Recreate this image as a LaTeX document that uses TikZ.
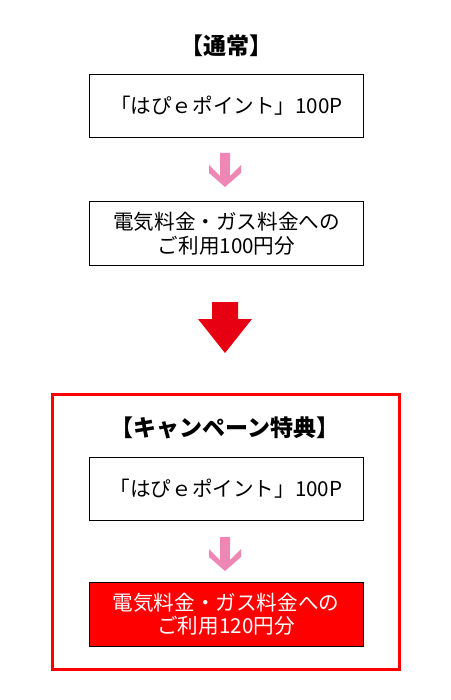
\documentclass[tikz,border=0pt]{standalone}
\usepackage{fontspec}
\newfontfamily\jp{Noto Sans CJK JP}
\definecolor{pinkarr}{HTML}{EE87B6}
\definecolor{redarr}{HTML}{E60012}
\definecolor{framered}{HTML}{FF0000}
\tikzset{
  plainbox/.style={draw=black, line width=1pt, fill=white, minimum width=274pt, minimum height=63pt, inner sep=0pt, align=center, font=\jp\fontsize{20.6pt}{23.5pt}\selectfont, text=black},
  redbox/.style={plainbox, fill=framered, text=white},
  titletext/.style={font=\jp\bfseries\fontsize{23pt}{26pt}\selectfont, inner sep=0pt, text=black},
  pinkarrow/.pic={\fill[pinkarr] (-5,0) -- (5,0) -- (5,23) -- (16,12) -- (16,20) -- (0,34) -- (-16,20) -- (-16,12) -- (-5,23) -- cycle;}
}
\begin{document}
\begin{tikzpicture}[x=1pt,y=-1pt]
\useasboundingbox (0,0) rectangle (450,700);
\fill[white] (0,0) rectangle (450,700);
% top section
\node[titletext] (t1) at (226,46) {【通常】};
\node[plainbox] (b1) at (226.5,106) {「はぴｅポイント」100P};
\coordinate (a1) at (225,153);
\pic at (a1) {pinkarrow};
\node[plainbox] (b2) at (226.5,233.5) {電気料金・ガス料金への\\ご利用100円分};
% big red arrow
\coordinate (ra) at (225,302);
\fill[redarr] ([shift={(-13,0)}]ra) -- ([shift={(13,0)}]ra) -- ([shift={(13,17)}]ra) -- ([shift={(27,17)}]ra) -- ([shift={(0,51)}]ra) -- ([shift={(-27,17)}]ra) -- ([shift={(-13,17)}]ra) -- cycle;
% campaign frame
\node[draw=framered, line width=3pt, minimum width=347pt, minimum height=275pt, inner sep=0pt] (frame) at (225.5,531.5) {};
\node[titletext] (t2) at (225,428) {【キャンペーン特典】};
\node[plainbox] (b3) at (226,488.5) {「はぴｅポイント」100P};
\coordinate (a2) at (225,537);
\pic at (a2) {pinkarrow};
\node[redbox, minimum height=64pt] (b4) at (226,614) {電気料金・ガス料金への\\ご利用120円分};
\end{tikzpicture}
\end{document}
